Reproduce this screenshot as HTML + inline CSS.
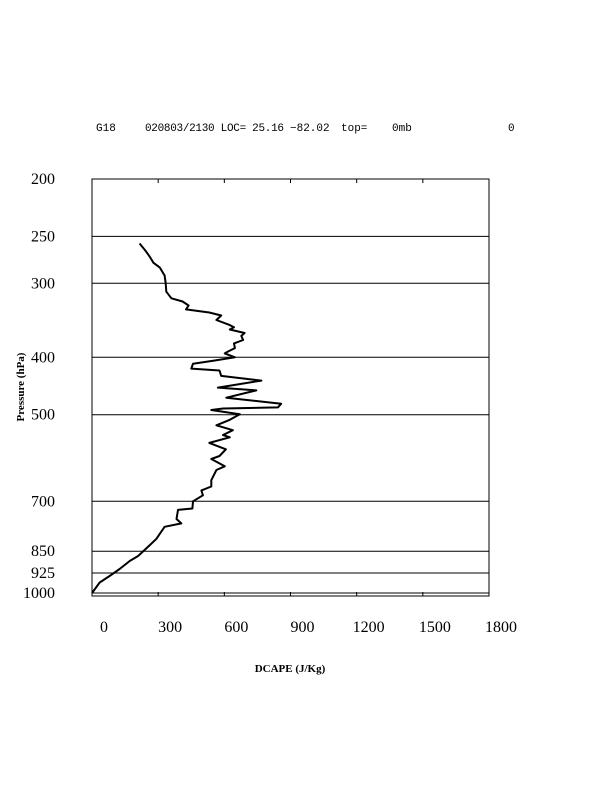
<!DOCTYPE html>
<html><head><meta charset="utf-8"><style>
html,body{margin:0;padding:0;background:#fff}
svg{display:block}
text{font-family:"Liberation Serif",serif;fill:#000}
</style></head><body>
<svg id="chart" width="612" height="792" viewBox="0 0 612 792" xmlns="http://www.w3.org/2000/svg">
<g font-size="11" style="font-family:'Liberation Mono',monospace">
<text x="96" y="131" style="font-family:'Liberation Mono',monospace">G18</text>
<text x="145" y="131" style="font-family:'Liberation Mono',monospace" textLength="139">020803/2130 LOC= 25.16</text>
<text x="290" y="131" style="font-family:'Liberation Mono',monospace">−82.02</text>
<text x="341" y="131" style="font-family:'Liberation Mono',monospace">top=</text>
<text x="392" y="131" style="font-family:'Liberation Mono',monospace">0mb</text>
<text x="508" y="131" style="font-family:'Liberation Mono',monospace">0</text>
</g>
<g id="grid"></g>
<rect x="92" y="179" width="397" height="417" fill="none" stroke="#000" stroke-width="1"/>
<g id="ticks"></g>
<path id="curve" fill="none" stroke="#000" stroke-width="2" stroke-linejoin="round"/>
<text x="24" y="387" font-size="11" font-weight="bold" text-anchor="middle" transform="rotate(-90 24 387)">Pressure (hPa)</text>
<text x="290" y="672" font-size="11" font-weight="bold" text-anchor="middle">DCAPE (J/Kg)</text>
</svg>
<script>
const xTicks = [0, 300, 600, 900, 1200, 1500, 1800];
const pLevels = [200, 250, 300, 400, 500, 700, 850, 925, 1000];
const dcape = [216,245,263,279,307,329,334,337,360,411,438,426,532,586,564,625,644,625,692,677,685,644,648,618,602,648,557,458,450,578,586,768,571,745,609,858,843,594,541,670,625,564,639,594,625,532,607,578,541,602,564,541,541,496,503,458,455,390,383,405,329,292,262,209,171,125,80,35,0];
const pres = [257,265,271,277,282,291,300,310,318,322,327,332,336,340,346,353,356,359,364,368,374,379,386,391,394,400,405,410,418,421,430,438,450,455,468,479,486,488,491,499,510,521,531,541,546,558,572,587,594,611,620,645,661,671,684,700,720,724,750,763,773,810,830,866,883,911,936,960,1000];

const X0=92, X1=489, Y0=179, Y1=593;
const xs = v => X0 + (v/1800)*(X1-X0);
const ys = p => Y0 + Math.log(p/200)/Math.log(5)*(Y1-Y0);
const NS="http://www.w3.org/2000/svg";
const grid=document.getElementById('grid'), ticks=document.getElementById('ticks');
pLevels.forEach(p=>{
  const y=ys(p);
  if(p!==200){
    const l=document.createElementNS(NS,'line');
    l.setAttribute('x1',X0);l.setAttribute('x2',X1);l.setAttribute('y1',y);l.setAttribute('y2',y);
    l.setAttribute('stroke','#000');l.setAttribute('stroke-width','1');
    
    
    grid.appendChild(l);
  }
  const t=document.createElementNS(NS,'text');
  t.setAttribute('x',55);t.setAttribute('y',y+5);t.setAttribute('text-anchor','end');t.setAttribute('font-size','16');
  t.textContent=p;
  
  
  ticks.appendChild(t);
});
xTicks.forEach(v=>{
  const x=xs(v);
  if(v>0&&v<1800){
    [[Y0,Y0+4],[596-4,596]].forEach(([a,b])=>{
      const l=document.createElementNS(NS,'line');
      l.setAttribute('x1',x);l.setAttribute('x2',x);l.setAttribute('y1',a);l.setAttribute('y2',b);
      l.setAttribute('stroke','#000');
      
      
      ticks.appendChild(l);
    });
  }
  const t=document.createElementNS(NS,'text');
  t.setAttribute('x',x+12);t.setAttribute('y',632);t.setAttribute('text-anchor','middle');t.setAttribute('font-size','16');
  t.textContent=v;
  
  
  ticks.appendChild(t);
});
document.getElementById('curve').setAttribute('d', dcape.map((v,i)=>(i?'L':'M')+xs(v).toFixed(1)+','+ys(pres[i]).toFixed(1)).join(''));
</script>
</body></html>
